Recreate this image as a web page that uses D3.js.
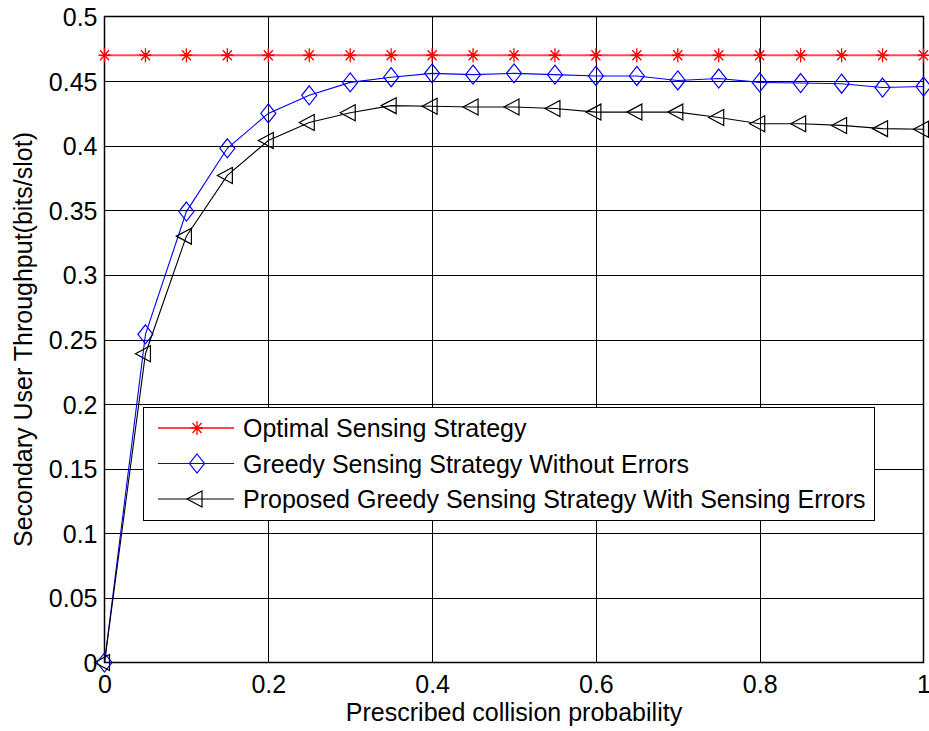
<!DOCTYPE html>
<html>
<head>
<meta charset="utf-8">
<script src="https://cdn.jsdelivr.net/npm/d3@7"></script>
<style>
  html, body { margin: 0; padding: 0; background: #fff; }
  svg { display: block; }
  text { font-family: "Liberation Sans", Arial, Helvetica, sans-serif; fill: #000; }
</style>
</head>
<body>
<svg id="chart" width="929" height="731"></svg>
<script>
// ---- data ----
const xValues = [0, 0.05, 0.1, 0.15, 0.2, 0.25, 0.3, 0.35, 0.4, 0.45, 0.5,
                 0.55, 0.6, 0.65, 0.7, 0.75, 0.8, 0.85, 0.9, 0.95, 1.0];
const optimal = [0.47, 0.47, 0.47, 0.47, 0.47, 0.47, 0.47, 0.47, 0.47, 0.47, 0.47,
                 0.47, 0.47, 0.47, 0.47, 0.47, 0.47, 0.47, 0.47, 0.47, 0.47];
const greedyNoErr = [0, 0.254, 0.349, 0.398, 0.425, 0.439, 0.449, 0.453, 0.456, 0.455, 0.456,
                     0.455, 0.454, 0.454, 0.4505, 0.452, 0.449, 0.4485, 0.448, 0.445, 0.4458];
const proposedErr = [0, 0.239, 0.330, 0.377, 0.404, 0.418, 0.4255, 0.431, 0.4305, 0.430, 0.430,
                     0.4288, 0.426, 0.426, 0.426, 0.4218, 0.417, 0.417, 0.4157, 0.4132, 0.4127];
const xTicks = [0, 0.2, 0.4, 0.6, 0.8, 1];
const yTicks = [0, 0.05, 0.1, 0.15, 0.2, 0.25, 0.3, 0.35, 0.4, 0.45, 0.5];
const seriesNames = ["Optimal Sensing Strategy",
                     "Greedy Sensing Strategy Without Errors",
                     "Proposed Greedy Sensing Strategy With Sensing Errors"];
const xLabel = "Prescribed collision probability";
const yLabel = "Secondary User Throughput(bits/slot)";

// ---- layout ----
const L = 104.5, R = 923.5, T = 16.5, B = 662.5;
const FS = "25px";
const x = d3.scaleLinear().domain([0, 1]).range([L, R]);
const y = d3.scaleLinear().domain([0, 0.5]).range([B, T]);
const svg = d3.select("#chart");

// grid
const g = svg.append("g");
g.selectAll("line.gx").data(xTicks.slice(1, -1)).enter().append("line")
  .attr("x1", d => Math.round(x(d)) + 0.5).attr("x2", d => Math.round(x(d)) + 0.5)
  .attr("y1", T).attr("y2", B).attr("stroke", "#000").attr("stroke-width", 1);
g.selectAll("line.gy").data(yTicks.slice(1, -1)).enter().append("line")
  .attr("y1", d => Math.round(y(d)) + 0.5).attr("y2", d => Math.round(y(d)) + 0.5)
  .attr("x1", L).attr("x2", R).attr("stroke", "#000").attr("stroke-width", 1);

// axes
const xAxis = d3.axisBottom(x).tickValues(xTicks).tickSize(0).tickPadding(13)
  .tickFormat(d => d3.format("")(d));
const yAxis = d3.axisLeft(y).tickValues(yTicks).tickSize(0).tickPadding(7)
  .tickFormat(d => d3.format("")(d));
const gx = svg.append("g").attr("transform", `translate(0,${B})`).call(xAxis);
const gy = svg.append("g").attr("transform", `translate(${L},0)`).call(yAxis);
[gx, gy].forEach(a => {
  a.select(".domain").remove();
  a.selectAll("text").style("font-size", FS).attr("fill", "#000")
    .style("font-family", '"Liberation Sans", Arial, sans-serif');
});
gx.selectAll("text").attr("dy", "0.71em");
gy.selectAll("text").attr("dy", "0.36em");

// box
svg.append("rect").attr("x", L).attr("y", T).attr("width", R - L).attr("height", B - T)
  .attr("fill", "none").attr("stroke", "#000").attr("stroke-width", 1.5);

// axis labels
svg.append("text").attr("x", (L + R) / 2).attr("y", 721).attr("text-anchor", "middle")
  .style("font-size", FS).text(xLabel);
svg.append("text").attr("transform", `translate(32,${(T + B) / 2}) rotate(-90)`)
  .attr("text-anchor", "middle").style("font-size", FS).text(yLabel);

// markers
function star(sel, color) {
  sel.append("path").attr("fill", "none").attr("stroke", color).attr("stroke-width", 1.3)
    .attr("d", "M-6,0H6M0,-7V7M-4.5,-5L4.5,5M-4.5,5L4.5,-5");
}
function diamond(sel, color) {
  sel.append("path").attr("fill", "none").attr("stroke", color).attr("stroke-width", 1.2)
    .attr("d", "M0,-9.5L7.5,0L0,9.5L-7.5,0Z");
}
function triangle(sel, color) {
  sel.append("path").attr("fill", "none").attr("stroke", color).attr("stroke-width", 1.2)
    .attr("d", "M-10,0L5,-8L5,8Z");
}

const series = [
  { vals: optimal, color: "#ff2a2a", width: 1.8, marker: star, mcolor: "#ff0000" },
  { vals: greedyNoErr, color: "#0000ff", width: 1.1, marker: diamond, mcolor: "#0000ff" },
  { vals: proposedErr, color: "#000000", width: 1.1, marker: triangle, mcolor: "#000000" }
];
const line = d3.line().x(d => x(d[0])).y(d => y(d[1]));
series.forEach(s => {
  const pts = xValues.map((xv, i) => [xv, s.vals[i]]);
  svg.append("path").attr("d", line(pts)).attr("fill", "none")
    .attr("stroke", s.color).attr("stroke-width", s.width).attr("opacity", s.color === "#ff2a2a" ? 0.85 : 1);
  pts.forEach(p => {
    const m = svg.append("g").attr("transform", `translate(${x(p[0])},${y(p[1])})`);
    s.marker(m, s.mcolor);
  });
});

// legend
const lg = svg.append("g");
lg.append("rect").attr("x", 143.5).attr("y", 407.5).attr("width", 731).attr("height", 113)
  .attr("fill", "#fff").attr("stroke", "#000").attr("stroke-width", 1);
const rowY = [428, 463.5, 499];
series.forEach((s, i) => {
  lg.append("line").attr("x1", 158).attr("x2", 234).attr("y1", rowY[i]).attr("y2", rowY[i])
    .attr("stroke", s.color).attr("stroke-width", s.width).attr("opacity", i === 0 ? 0.85 : 1);
  const m = lg.append("g").attr("transform", `translate(197,${rowY[i]})`);
  s.marker(m, s.mcolor);
  lg.append("text").attr("x", 243).attr("y", rowY[i]).attr("dy", "0.36em")
    .style("font-size", FS).text(seriesNames[i]);
});
</script>
</body>
</html>
